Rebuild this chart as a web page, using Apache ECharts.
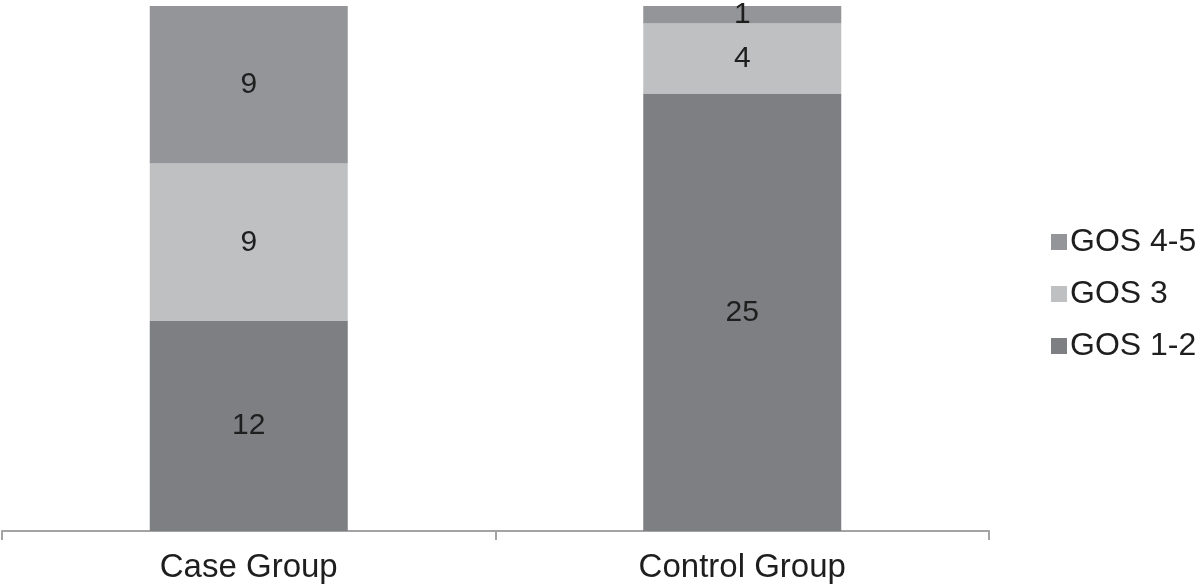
<!DOCTYPE html>
<html>
<head>
<meta charset="utf-8">
<script src="https://cdn.jsdelivr.net/npm/echarts@6/dist/echarts.min.js"></script>
<style>html,body{margin:0;padding:0;background:#fff}#c{width:1200px;height:585px}</style>
</head>
<body>
<div id="c"></div>
<script>
const categories = ['Case Group', 'Control Group'];
const gos12 = [12, 25];
const gos3 = [9, 4];
const gos45 = [9, 1];
const seriesNames = ['GOS 1-2', 'GOS 3', 'GOS 4-5'];
const colors = ['#7e7f83', '#bfc0c2', '#949598'];
const font = 'Liberation Sans, Arial, Helvetica, sans-serif';

const chart = echarts.init(document.getElementById('c'), null, {renderer: 'canvas'});
const mk = (name, data, color) => ({
  name, type: 'bar', stack: 'total', data, barWidth: 198,
  itemStyle: {color},
  label: {show: true, position: 'inside', color: '#1e1e1e', fontSize: 30, fontFamily: font},
  emphasis: {disabled: true}
});
chart.setOption({
  animation: false,
  grid: {left: 2, right: 211, top: 6, bottom: 54, containLabel: false},
  legend: {
    orient: 'vertical', left: 1046, top: 221,
    data: ['GOS 4-5', 'GOS 3', 'GOS 1-2'],
    icon: 'rect', itemWidth: 16, itemHeight: 16, itemGap: 20,
    textStyle: {fontSize: 32, fontFamily: font, color: '#1e1e1e', lineHeight: 32, padding: [0,0,0,-2]},
    selectedMode: false
  },
  xAxis: {
    type: 'category', data: categories, boundaryGap: true,
    axisLine: {lineStyle: {color: '#a3a3a3', width: 2}},
    axisTick: {show: true, length: 9, lineStyle: {color: '#a3a3a3', width: 2}},
    axisLabel: {fontSize: 33, fontFamily: font, color: '#1e1e1e', margin: 20}
  },
  yAxis: {type: 'value', min: 0, max: 30, show: false, splitLine: {show: false}},
  series: [
    mk(seriesNames[0], gos12, colors[0]),
    mk(seriesNames[1], gos3, colors[1]),
    mk(seriesNames[2], gos45, colors[2])
  ]
});
</script>
</body>
</html>
